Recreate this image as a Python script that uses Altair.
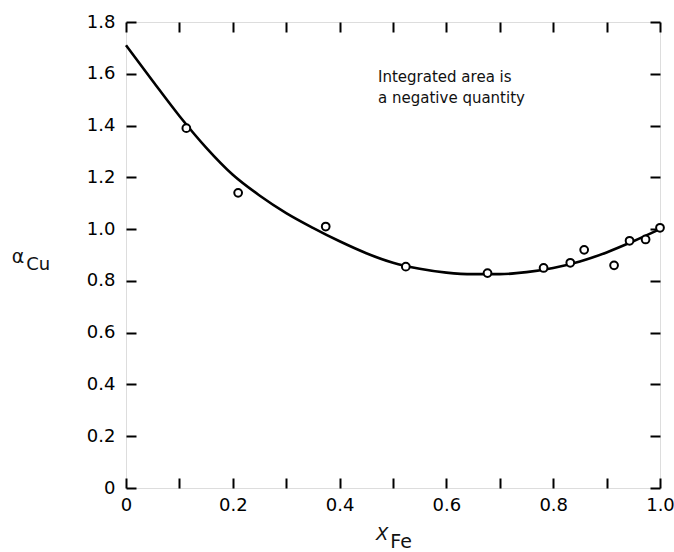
import altair as alt
import pandas as pd

# ---- data ----
curve_x = [0.00, 0.05, 0.10, 0.15, 0.20, 0.25, 0.30, 0.35, 0.40, 0.45, 0.50,
           0.55, 0.60, 0.65, 0.70, 0.75, 0.80, 0.85, 0.90, 0.95, 1.00]
curve_y = [1.71, 1.572, 1.437, 1.315, 1.21, 1.13, 1.062, 1.005, 0.953, 0.907, 0.87,
           0.847, 0.832, 0.826, 0.826, 0.834, 0.85, 0.875, 0.91, 0.953, 1.00]

pts_x = [0.113, 0.21, 0.374, 0.524, 0.677, 0.782, 0.832, 0.858, 0.914, 0.943, 0.973, 1.0]
pts_y = [1.39, 1.14, 1.01, 0.855, 0.83, 0.85, 0.87, 0.92, 0.86, 0.955, 0.96, 1.005]

x_ticks = [0.0, 0.1, 0.2, 0.3, 0.4, 0.5, 0.6, 0.7, 0.8, 0.9, 1.0]
y_ticks = [0.0, 0.2, 0.4, 0.6, 0.8, 1.0, 1.2, 1.4, 1.6, 1.8]

note_lines = ["Integrated area is", "a negative quantity"]
y_title_main, y_title_sub = "α", "Cu"
x_title_main, x_title_sub = "X", "Fe"

# ---- layout / style ----
W, H = 534, 466
FONT = "DejaVu Sans"
xs = alt.Scale(domain=[0, 1], nice=False, zero=False)
ys = alt.Scale(domain=[0, 1.8], nice=False, zero=False)

lab_expr = "datum.value == 0 ? '0' : format(datum.value, '.1f')"
x_lab_expr = "round(datum.value * 10) % 2 == 0 ? (" + lab_expr + ") : ''"

common_axis = dict(domain=False, grid=False, offset=-10, tickSize=10, tickWidth=2,
                   tickColor="black", title=None, labelFont=FONT, labelFontSize=18,
                   labelColor="black", labelFlush=False, labelOverlap=False,
                   labelBound=False)

x_axis = alt.Axis(values=x_ticks, orient="bottom", labelExpr=x_lab_expr,
                  labelPadding=8, **common_axis)
y_axis = alt.Axis(values=y_ticks, orient="left", labelExpr=lab_expr,
                  labelPadding=11, **common_axis)
x_axis_top = alt.Axis(values=x_ticks, orient="top", labels=False, **common_axis)
y_axis_right = alt.Axis(values=y_ticks, orient="right", labels=False, **common_axis)

curve_df = pd.DataFrame({"x": curve_x, "y": curve_y})
pts_df = pd.DataFrame({"x": pts_x, "y": pts_y})

line = alt.Chart(curve_df).mark_line(color="black", strokeWidth=2.6,
                                     interpolate="monotone").encode(
    x=alt.X("x:Q", scale=xs, axis=x_axis),
    y=alt.Y("y:Q", scale=ys, axis=y_axis),
)

points = alt.Chart(pts_df).mark_point(shape="circle", size=60, filled=True,
                                      fill="white", stroke="black",
                                      strokeWidth=2, opacity=1).encode(
    x=alt.X("x:Q", scale=xs, axis=x_axis_top),
    y=alt.Y("y:Q", scale=ys, axis=y_axis_right),
)

# annotation positions in data units
note_df = pd.DataFrame({"t": note_lines, "x": [0.472, 0.472], "y": [1.568, 1.487]})
note = alt.Chart(note_df).mark_text(align="left", baseline="alphabetic", font=FONT,
                                    fontSize=15, color="#111").encode(
    x=alt.X("x:Q", scale=xs, axis=None),
    y=alt.Y("y:Q", scale=ys, axis=None),
    text="t:N",
)

def label(text, x, y, size, style="normal"):
    df = pd.DataFrame({"t": [text], "x": [x], "y": [y]})
    return alt.Chart(df).mark_text(align="left", baseline="alphabetic", font=FONT,
                                   fontSize=size, fontStyle=style,
                                   color="#111").encode(
        x=alt.X("x:Q", scale=xs, axis=None),
        y=alt.Y("y:Q", scale=ys, axis=None),
        text="t:N",
    )

ya = label(y_title_main, -0.214, 0.869, 19)
yb = label(y_title_sub, -0.187, 0.842, 18)
xa = label(x_title_main, 0.468, -0.2008, 18, "italic")
xb = label(x_title_sub, 0.495, -0.232, 19)

chart = alt.layer(line, points, note, ya, yb, xa, xb).resolve_axis(
    x="independent", y="independent"
).properties(
    width=W, height=H,
    autosize=alt.AutoSizeParams(type="none"),
    padding={"left": 126, "top": 22, "right": 14, "bottom": 64},
).configure_view(stroke="black", strokeWidth=2).configure(background="white")

chart.save("out.html", embed_options={"renderer": "svg", "actions": False})
